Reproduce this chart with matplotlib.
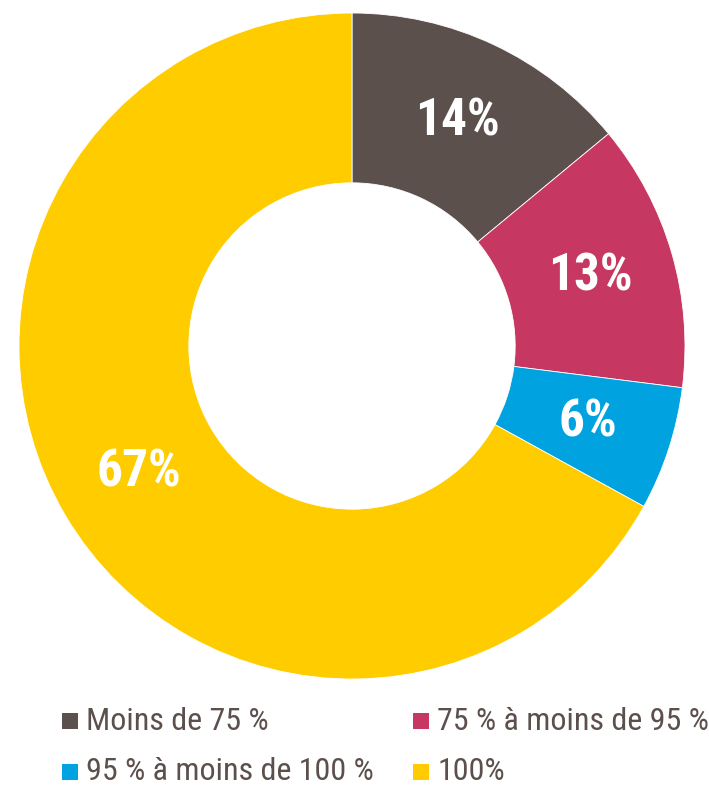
import matplotlib
matplotlib.use('Agg')
import matplotlib.pyplot as plt
from matplotlib.patches import Rectangle

plt.rcParams['font.family'] = ['Roboto Condensed', 'DejaVu Sans']

# Shares by category
categories = ['Moins de 75 %', '75 % à moins de 95 %', '95 % à moins de 100 %', '100%']
shares = [14, 13, 6, 67]
colors = ['#5C504D', '#C63862', '#00A3DF', '#FFCC00']
text_color = '#5C504D'

W, H = 709, 785
fig = plt.figure(figsize=(W / 100, H / 100), dpi=100)

# Donut
ax = fig.add_axes([19 / W, 106 / H, 666 / W, 666 / H])
wedges, texts, autotexts = ax.pie(
    shares, colors=colors, startangle=90, counterclock=False,
    radius=1.0, wedgeprops=dict(width=0.51, edgecolor='white', linewidth=0.6),
    autopct='%d%%', pctdistance=0.745,
    textprops=dict(color='white', fontsize=37, fontweight='bold'))
ax.set_xlim(-1, 1)
ax.set_ylim(-1, 1)
ax.set_aspect('equal')
ax.axis('off')

# Legend: 2 columns x 2 rows
col_x = [62, 413]
row_y = [721, 772]
sq = 16
for i, (lab, c) in enumerate(zip(categories, colors)):
    x = col_x[i % 2]
    y = row_y[i // 2]
    fig.patches.append(Rectangle((x / W, 1 - (y + sq / 2) / H), sq / W, sq / H,
                                 transform=fig.transFigure, facecolor=c,
                                 edgecolor='none'))
    fig.text((x + sq + 8) / W, 1 - y / H, lab, fontsize=23, color=text_color,
             va='center', ha='left')

fig.savefig('out.png', dpi=100)
